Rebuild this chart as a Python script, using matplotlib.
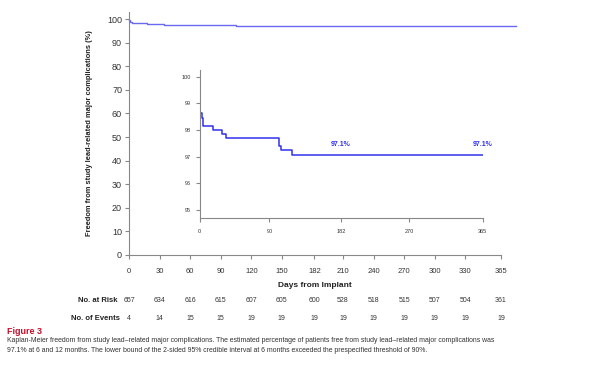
import matplotlib
matplotlib.use("Agg")
import matplotlib.pyplot as plt

plt.rcParams['font.family'] = ['Liberation Sans', 'DejaVu Sans']

# Data
event_days = [0, 1, 2.6, 4.5, 17.5, 28.8, 34, 102, 105, 119.5]
survival = [99.4, 98.63, 98.45, 98.16, 98.0, 97.85, 97.69, 97.4, 97.25, 97.05]
main_end_day = 380
inset_end_day = 365

main_xticks = [0, 30, 60, 90, 120, 150, 182, 210, 240, 270, 300, 330, 365]
main_yticks = [0, 10, 20, 30, 40, 50, 60, 70, 80, 90, 100]
inset_xticks = [0, 90, 182, 270, 365]
inset_yticks = [95, 96, 97, 98, 99, 100]
at_risk = [657, 634, 616, 615, 607, 605, 600, 528, 518, 515, 507, 504, 361]
events = [4, 14, 15, 15, 19, 19, 19, 19, 19, 19, 19, 19, 19]
label_points = [(182, "97.1%"), (365, "97.1%")]

fig = plt.figure(figsize=(6, 3.72), dpi=100)
W, H = 600, 372

def fx(px):
    return px / W

def fy(py):
    return 1 - py / H

grey = '#888888'
txt = '#333333'

# Main axes
ax = fig.add_axes([fx(129), fy(255), fx(501) - fx(129), fy(12) - fy(255)])
x_main = event_days + [main_end_day]
y_main = survival + [survival[-1]]
ax.step(x_main, y_main, where='post', color='#6a6af0', lw=1.0, clip_on=False)
ax.set_xlim(0, 365)
ax.set_ylim(0, 103)
for s in ['top', 'right']:
    ax.spines[s].set_visible(False)
for s in ['left', 'bottom']:
    ax.spines[s].set_color(grey)
    ax.spines[s].set_linewidth(0.8)
ax.set_xticks(main_xticks)
ax.set_yticks(main_yticks)
ax.tick_params(axis='both', colors=grey, labelcolor=txt, length=3, width=0.8, direction='out')
ax.tick_params(axis='x', labelsize=5.5, pad=6.5)
ax.tick_params(axis='y', labelsize=6.5, pad=2)
ax.set_ylabel("Freedom from study lead-related major complications (%)", fontsize=5.4,
              fontweight='bold', color='#222222', labelpad=10)
ax.set_xlabel("Days from Implant", fontsize=6, fontweight='bold', color='#222222', labelpad=5)

# Risk table
for d, r, e in zip(main_xticks, at_risk, events):
    ax.annotate(str(r), xy=(d, 0), xycoords=('data', 'axes fraction'),
                xytext=(0, -(301 - 255)), textcoords='offset pixels',
                ha='center', va='center', fontsize=5, color=txt)
    ax.annotate(str(e), xy=(d, 0), xycoords=('data', 'axes fraction'),
                xytext=(0, -(318 - 255)), textcoords='offset pixels',
                ha='center', va='center', fontsize=5, color=txt)
fig.text(fx(118), fy(301), "No. at Risk", ha='right', va='center', fontsize=5.5,
         fontweight='bold', color='#222222')
fig.text(fx(120), fy(318), "No. of Events", ha='right', va='center', fontsize=5.5,
         fontweight='bold', color='#222222')

# Inset axes
ia = fig.add_axes([fx(199.7), fy(218), fx(482.7) - fx(199.7), fy(70) - fy(218)])
x_in = event_days + [inset_end_day]
y_in = survival + [survival[-1]]
ia.step(x_in, y_in, where='post', color='#3030ee', lw=1.1)
ia.set_xlim(0, 365)
ia.set_ylim(94.70, 100.25)
for s in ['top', 'right']:
    ia.spines[s].set_visible(False)
for s in ['left', 'bottom']:
    ia.spines[s].set_color(grey)
    ia.spines[s].set_linewidth(0.8)
ia.set_xticks(inset_xticks)
ia.set_yticks(inset_yticks)
ia.tick_params(axis='both', colors=grey, labelcolor=txt, length=3, width=0.8, labelsize=4)
ia.tick_params(axis='x', pad=5)
for d, t in label_points:
    ia.annotate(t, xy=(d, survival[-1]), xytext=(0, 11), textcoords='offset pixels',
                ha='center', va='center', fontsize=5, fontweight='bold', color='#3030ee')

# Caption
fig.text(fx(7), fy(331), "Figure 3", ha='left', va='center', fontsize=6.5,
         fontweight='bold', color='#c8102e')
fig.text(fx(7), fy(341),
         "Kaplan-Meier freedom from study lead\u2013related major complications. The estimated percentage of patients free from study lead\u2013related major complications was",
         ha='left', va='center', fontsize=4.95, color='#333333')
fig.text(fx(7), fy(351),
         "97.1% at 6 and 12 months. The lower bound of the 2-sided 95% credible interval at 6 months exceeded the prespecified threshold of 90%.",
         ha='left', va='center', fontsize=4.95, color='#333333')

fig.savefig("out.png", dpi=100)
